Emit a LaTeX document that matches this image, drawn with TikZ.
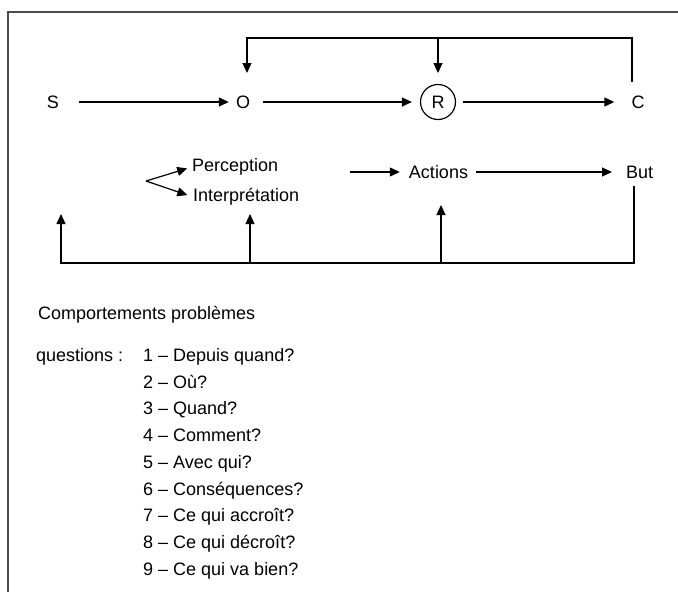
\documentclass[tikz,border=0pt]{standalone}
\usepackage{fontspec}
\setmainfont{Liberation Sans}
\usetikzlibrary{arrows.meta}
\begin{document}
\begin{tikzpicture}[x=1pt,y=-1pt,
  lbl/.style={inner sep=0pt, font=\fontsize{18}{21}\selectfont},
  txt/.style={lbl, anchor=base west},
  arr/.style={draw=black, line width=1.2pt, -{Triangle[length=10pt,width=9pt]}},
  frame/.style={draw=black!70, line width=1.6pt}]
\useasboundingbox (0,0) rectangle (678,592);
\fill[white] (0,0) rectangle (678,592);
\draw[frame] (678,12) -- (8,12) -- (8,592);

% top row
\node[lbl] (S) at (53,102) {S};
\node[lbl] (O) at (243,102) {O};
\node[lbl, draw, circle, line width=1.2pt, minimum size=35pt] (R) at (438,102) {R};
\node[lbl] (C) at (638,102) {C};
\draw[arr, shorten <=20pt, shorten >=7pt] (S.east) -- (O.west);
\draw[arr, shorten <=13pt, shorten >=8pt] (O.east) -- (R.west);
\draw[arr, shorten <=7pt, shorten >=17pt] (R.east) -- (C.west);

\coordinate (cfoot) at (632,82);
\coordinate (otip) at (247,73);
\coordinate (rtip) at (438,73);
\coordinate (rtop) at (438,38);
\draw[arr] (cfoot) -- (632,38) -| (otip);
\draw[arr] (rtop) -- (rtip);

% middle row
\node[lbl, anchor=west] (P) at (192,167) {Perception};
\node[lbl, anchor=west] (I) at (193,197) {Interprétation};
\node[lbl] (A) at (438.5,172) {Actions};
\node[lbl, anchor=west] (B) at (626,172) {But};
\coordinate (fork) at (146,181);
\coordinate (astart) at (350,172);
\draw[arr, shorten >=5pt] (fork) -- (P.west);
\draw[arr, shorten >=6pt] (fork) -- (I.west);
\draw[arr, shorten >=9pt] (astart) -- (A.west);
\draw[arr, shorten <=8pt, shorten >=14pt] (A.east) -- (B.west);

% bottom loop
\coordinate (bfoot) at (634,186);
\coordinate (t1) at (61,214);
\coordinate (t2) at (250,214);
\coordinate (t3) at (441,205);
\coordinate (b2) at (250,263);
\coordinate (b3) at (441,263);
\draw[arr] (bfoot) -- (634,263) -| (t1);
\draw[arr] (b2) -- (t2);
\draw[arr] (b3) -- (t3);

% text
\node[txt] (cp) at (38,319.5) {Comportements problèmes};
\node[txt] (qs) at (36,361.4) {questions :};
\node[txt] (q1) at (143,361.40) {1 – Depuis quand?};
\node[txt] (q2) at (143,388.15) {2 – Où?};
\node[txt] (q3) at (143,414.90) {3 – Quand?};
\node[txt] (q4) at (143,441.65) {4 – Comment?};
\node[txt] (q5) at (143,468.40) {5 – Avec qui?};
\node[txt] (q6) at (143,495.15) {6 – Conséquences?};
\node[txt] (q7) at (143,521.90) {7 – Ce qui accroît?};
\node[txt] (q8) at (143,548.65) {8 – Ce qui décroît?};
\node[txt] (q9) at (143,575.40) {9 – Ce qui va bien?};
\end{tikzpicture}
\end{document}
